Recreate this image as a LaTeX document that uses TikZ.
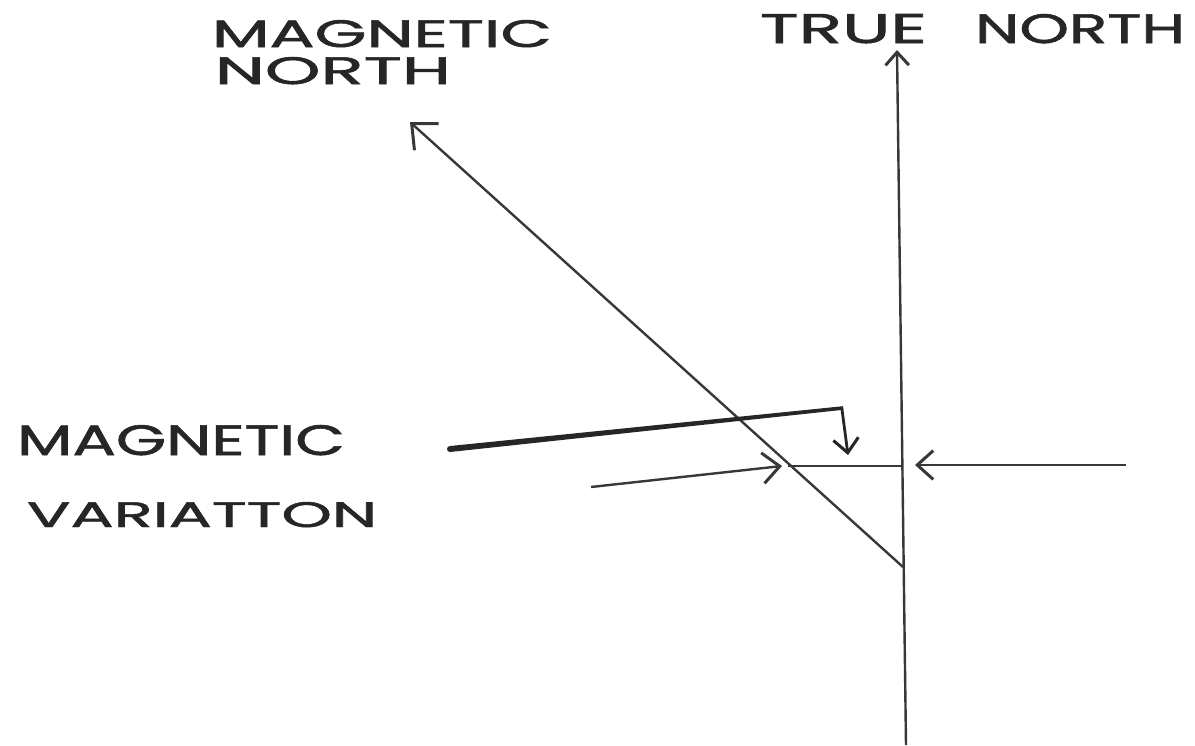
\documentclass[tikz,border=0pt]{standalone}
\usepackage{fontspec}
\usepackage{graphicx}
\newfontfamily\hand[FakeBold=1.3]{Poppins}
\usetikzlibrary{arrows.meta,calc}
\definecolor{ink}{HTML}{262626}
\definecolor{lineink}{HTML}{383838}
\tikzset{
  lbl/.style={inner sep=0pt, outer sep=0pt, anchor=north west, text=ink, font=\hand},
  thin/.style={draw=lineink, line width=2.4pt},
  barb/.style={-{Straight Barb[length=#1pt,width=#1pt*1.8, line width=3pt]}},
}
\begin{document}
\begin{tikzpicture}[x=1pt,y=-1pt]
\useasboundingbox[fill=white] (0,0) rectangle (1195,745);
% labels
\node[lbl] (mn1) at (212,20) {\resizebox{340pt}{27pt}{MAGNETIC}};
\node[lbl] (mn2) at (215,57) {\resizebox{236pt}{27pt}{NORTH}};
\node[lbl] (tn) at (760,14) {\resizebox{167pt}{29pt}{TRUE}\hspace{48pt}\resizebox{210pt}{29pt}{NORTH}};
\node[lbl] (mv1) at (17,425) {\resizebox{328pt}{30pt}{MAGNETIC}};
\node[lbl] (mv2) at (27,502) {\resizebox{350pt}{25pt}{VARIATTON}};
% coordinates
\coordinate (tnTop) at (897,50);
\coordinate (tnBot) at (906,745);
\coordinate (meet) at (903,567);
\coordinate (mnTip) at (410,122);
\coordinate (hLeft) at (788,466);
\coordinate (hRight) at (903,466);
\coordinate (lowStart) at (591,487);
\coordinate (lowTip) at (782,466);
\coordinate (rStart) at (1126,465);
\coordinate (rTip) at (915,465);
\coordinate (thickStart) at (450,449);
\coordinate (thickCorner) at (843,408);
\coordinate (thickTip) at (848,455);
% true north
\draw[thin, barb=13] (tnBot) -- (tnTop);
% magnetic north
\draw[thin, barb=20] (meet) -- (mnTip);
% horizontal
\draw[thin] (hLeft) -- (hRight);
% lower arrow
\draw[thin, barb=17] (lowStart) -- (lowTip);
% right arrow
\draw[thin, barb=16] (rStart) -- (rTip);
% thick tapered line
\fill[ink] ($(thickStart)+(0,-3)$) -- ($(thickCorner)+(0,-1.8)$) -- ($(thickCorner)+(0,1.8)$) -- ($(thickStart)+(0,3)$) -- cycle;
\fill[ink] (thickStart) circle (3);
\draw[draw=ink, line width=2.8pt, line join=round, barb=14] ($(thickCorner)+(-1.2,0)$) -- (thickTip);
\end{tikzpicture}
\end{document}
